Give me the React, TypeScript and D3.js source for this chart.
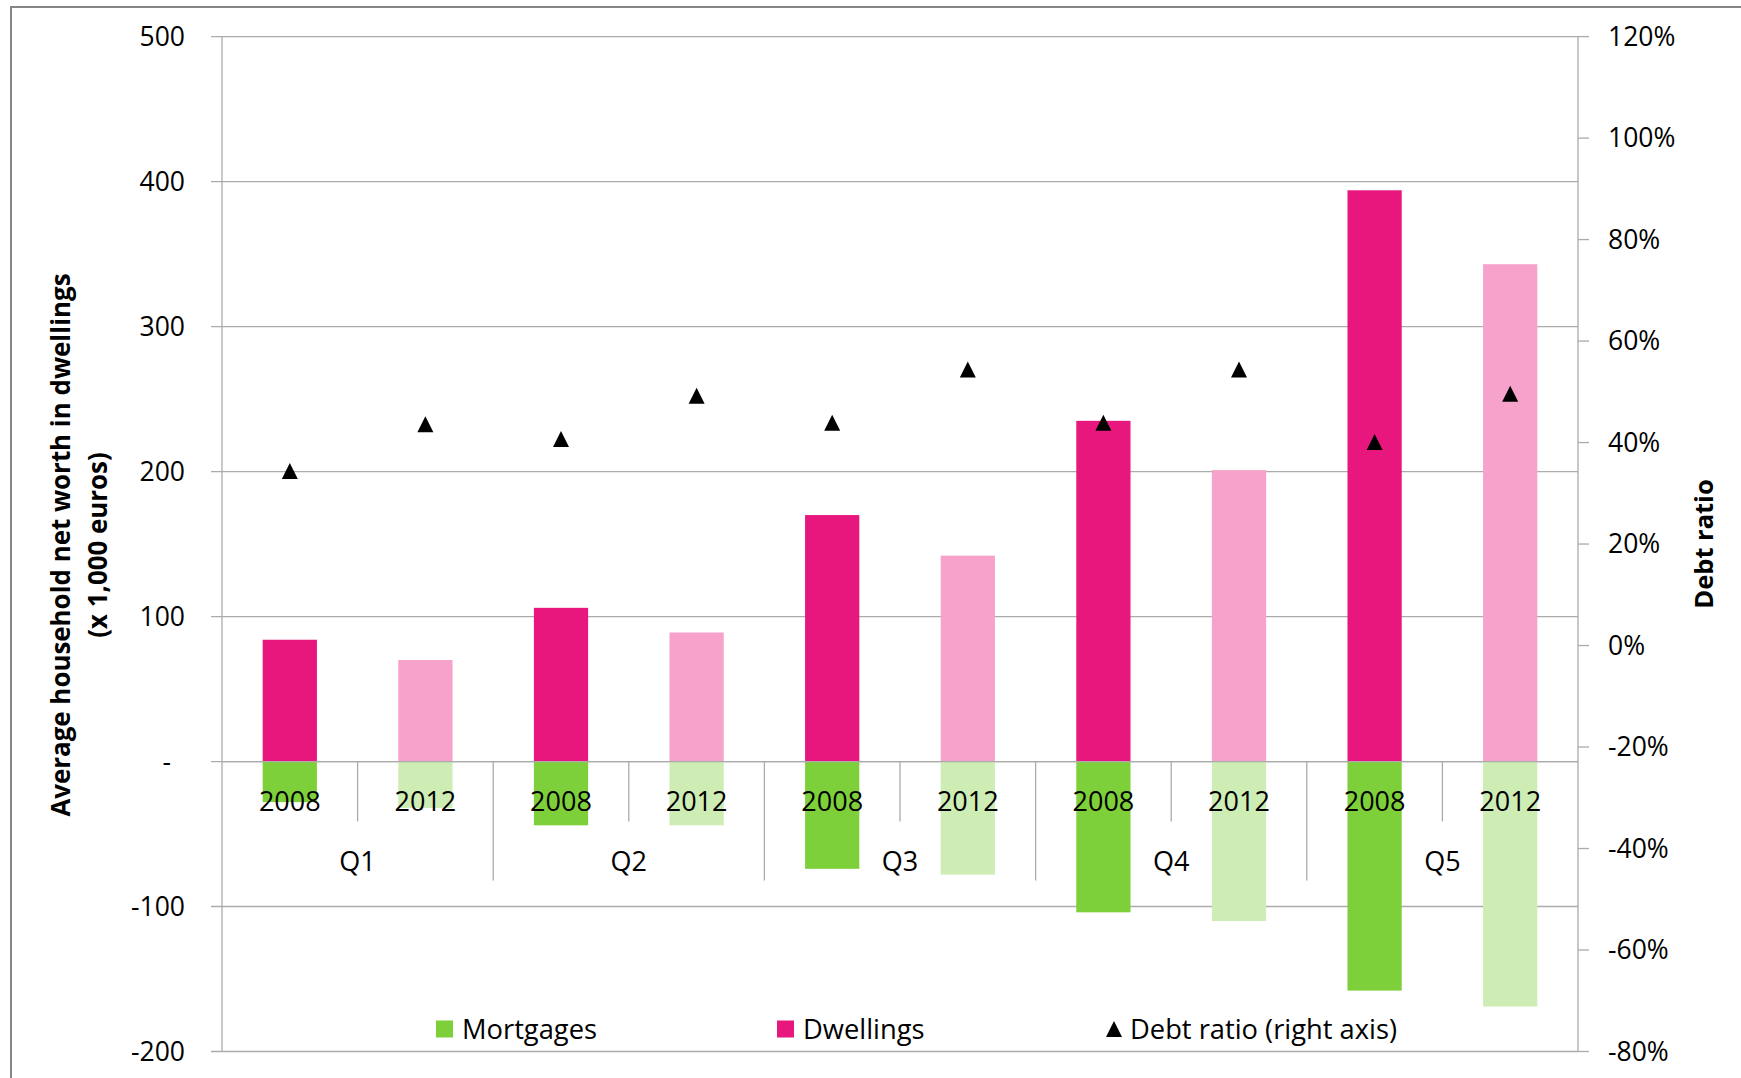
import React, { useRef, useEffect } from 'react';
import * as d3 from 'd3';

// quintile groups and the two survey years
const quintiles = ['Q1', 'Q2', 'Q3', 'Q4', 'Q5'];
const years = ['2008', '2012'];

// x 1,000 euros
const dwellings2008 = [84, 106, 170, 235, 394];
const dwellings2012 = [70, 89, 142, 201, 343];
const mortgages2008 = [-28, -44, -74, -104, -158];
const mortgages2012 = [-32, -44, -78, -110, -169];

// debt ratio (right axis)
const debtRatio2008 = [0.344, 0.407, 0.439, 0.439, 0.401];
const debtRatio2012 = [0.436, 0.492, 0.544, 0.544, 0.496];

const leftTicks = [500, 400, 300, 200, 100, 0, -100, -200];
const rightTicks = [1.2, 1.0, 0.8, 0.6, 0.4, 0.2, 0, -0.2, -0.4, -0.6, -0.8];
const legendLabels = ['Mortgages', 'Dwellings', 'Debt ratio (right axis)'];
const yTitleLines = ['Average household net worth in dwellings', '(x 1,000 euros)'];
const y2Title = 'Debt ratio';

const W = 1741;
const H = 1078;
const FONT = '"Open Sans", "Noto Sans", sans-serif';

const dwellColors = ['#E8177D', '#F6A2CA'];
const mortColors = ['#7ED03B', '#CDEDB4'];
const gridColor = '#ABABAB';

// plain hyphen minus, like the original
const fmtNum = (v: number) => String(v);
const fmtPct = (v: number) => `${Math.round(v * 100)}%`;

export default function App() {
  const svgRef = useRef<SVGSVGElement>(null);

  useEffect(() => {
    if (!svgRef.current) return;
    const svg = d3.select(svgRef.current);
    svg.selectAll('*').remove();

    const left = 222;
    const right = 1578;
    const top = 36.6;
    const bottom = 1051.5;

    const rows: any[] = [];
    quintiles.forEach((q, qi) => {
      years.forEach((yr, yi) => {
        rows.push({
          key: `${q}-${yr}`,
          q,
          yr,
          yi,
          dwell: yi === 0 ? dwellings2008[qi] : dwellings2012[qi],
          mort: yi === 0 ? mortgages2008[qi] : mortgages2012[qi],
          ratio: yi === 0 ? debtRatio2008[qi] : debtRatio2012[qi]
        });
      });
    });

    const x = d3
      .scaleBand<string>()
      .domain(rows.map((r) => r.key))
      .range([left, right])
      .padding(0);
    const xq = d3.scaleBand<string>().domain(quintiles).range([left, right]).padding(0);
    const y = d3.scaleLinear().domain([-200, 500]).range([bottom, top]);
    const y2 = d3.scaleLinear().domain([-0.8, 1.2]).range([bottom, top]);

    const bw = x.bandwidth() * 0.4;
    const cx = (k: string) => (x(k) as number) + x.bandwidth() / 2;

    // outer chart frame (cut off at right and bottom)
    svg
      .append('path')
      .attr('d', `M11,${H + 5} L11,7 L${W + 5},7`)
      .style('fill', 'none')
      .style('stroke', '#868686')
      .style('stroke-width', 2);

    // gridlines
    svg
      .selectAll('.grid')
      .data(leftTicks)
      .enter()
      .append('line')
      .attr('x1', left - 11)
      .attr('x2', right)
      .attr('y1', (d) => y(d))
      .attr('y2', (d) => y(d))
      .style('stroke', gridColor)
      .style('stroke-width', 1.3);

    // dwellings bars
    svg
      .selectAll('.dwell')
      .data(rows)
      .enter()
      .append('rect')
      .attr('x', (d) => cx(d.key) - bw / 2)
      .attr('width', bw)
      .attr('y', (d) => y(d.dwell))
      .attr('height', (d) => y(0) - y(d.dwell))
      .style('fill', (d) => dwellColors[d.yi]);

    // mortgage bars
    svg
      .selectAll('.mort')
      .data(rows)
      .enter()
      .append('rect')
      .attr('x', (d) => cx(d.key) - bw / 2)
      .attr('width', bw)
      .attr('y', y(0))
      .attr('height', (d) => y(d.mort) - y(0))
      .style('fill', (d) => mortColors[d.yi]);

    // axis lines
    const line = (x1: number, y1: number, x2: number, y2v: number) => {
      svg
        .append('line')
        .attr('x1', x1)
        .attr('y1', y1)
        .attr('x2', x2)
        .attr('y2', y2v)
        .style('stroke', gridColor)
        .style('stroke-width', 1.3);
    };
    line(left, top, left, bottom);
    line(right, top, right, bottom);
    line(left, y(0), right, y(0));

    // right axis tick marks
    rightTicks.forEach((t) => line(right, y2(t), right + 11, y2(t)));

    // category separators: short between years, long between quintiles
    rows.forEach((r, i) => {
      if (i === 0) return;
      const xs = x(r.key) as number;
      const long = r.yi === 0;
      line(xs, y(0), xs, y(0) + (long ? 119 : 60));
    });

    const text = (
      tx: number,
      ty: number,
      s: string,
      anchor: string,
      size: number,
      weight = 'normal'
    ) =>
      svg
        .append('text')
        .attr('x', tx)
        .attr('y', ty)
        .attr('dy', '0.35em')
        .attr('text-anchor', anchor)
        .style('font-family', FONT)
        .style('font-size', `${size}px`)
        .style('font-weight', weight)
        .style('fill', '#000')
        .text(s);

    // left tick labels
    leftTicks.forEach((t) => {
      if (t === 0) text(left - 51, y(t), '-', 'end', 26.5);
      else text(left - 37, y(t), fmtNum(t), 'end', 26.5);
    });

    // right tick labels
    rightTicks.forEach((t) => text(right + 30, y2(t), fmtPct(t), 'start', 26.5));

    // year labels and quintile labels
    rows.forEach((r) => text(cx(r.key), y(0) + 40, r.yr, 'middle', 27));
    quintiles.forEach((q) =>
      text((xq(q) as number) + xq.bandwidth() / 2, y(0) + 100, q, 'middle', 27)
    );

    // debt ratio markers
    const tri = (tx: number, ty: number, s: number) =>
      `M${tx - s},${ty + s} L${tx + s},${ty + s} L${tx},${ty - s} Z`;
    svg
      .selectAll('.ratio')
      .data(rows)
      .enter()
      .append('path')
      .attr('d', (d) => tri(cx(d.key), y2(d.ratio), 8))
      .style('fill', '#000');

    // legend
    const ly = 1029;
    svg
      .append('rect')
      .attr('x', 436)
      .attr('y', ly - 8.5)
      .attr('width', 17)
      .attr('height', 17)
      .style('fill', mortColors[0]);
    text(462, ly, legendLabels[0], 'start', 27.3);
    svg
      .append('rect')
      .attr('x', 777)
      .attr('y', ly - 8.5)
      .attr('width', 17)
      .attr('height', 17)
      .style('fill', dwellColors[0]);
    text(803, ly, legendLabels[1], 'start', 27.3);
    svg.append('path').attr('d', tri(1114, ly, 8)).style('fill', '#000');
    text(1130, ly, legendLabels[2], 'start', 27.3);

    // axis titles
    yTitleLines.forEach((s, i) => {
      svg
        .append('text')
        .attr('transform', `translate(${61 + i * 37},545) rotate(-90)`)
        .attr('dy', '0.35em')
        .attr('text-anchor', 'middle')
        .style('font-family', FONT)
        .style('font-size', '25.9px')
        .style('font-weight', 'bold')
        .text(s);
    });
    svg
      .append('text')
      .attr('transform', 'translate(1704,544) rotate(-90)')
      .attr('dy', '0.35em')
      .attr('text-anchor', 'middle')
      .style('font-family', FONT)
      .style('font-size', '25.5px')
      .style('font-weight', 'bold')
      .text(y2Title);
  }, []);

  return (
    <div style={{ position: 'absolute', left: 0, top: 0, width: W, height: H, overflow: 'hidden', background: '#fff' }}>
      <svg ref={svgRef} width={W} height={H} style={{ display: 'block' }} />
    </div>
  );
}
